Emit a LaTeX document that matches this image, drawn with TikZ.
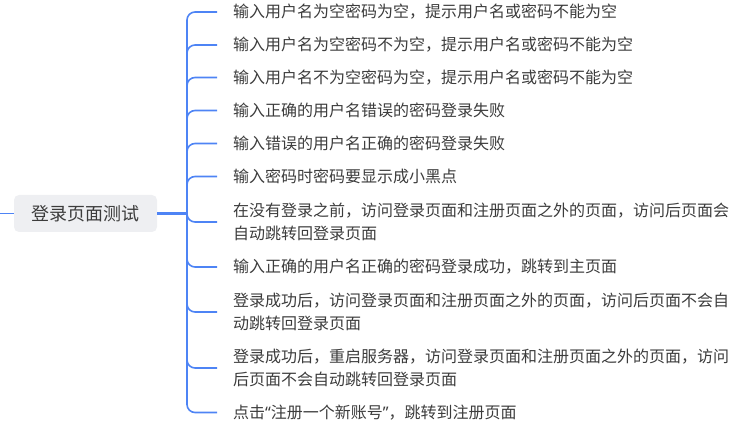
\documentclass[tikz,border=0pt]{standalone}
\usepackage{fontspec}
\setmainfont{Noto Sans CJK SC}
\newfontfamily\quotefont{Noto Sans}
\usetikzlibrary{positioning}
\definecolor{branchblue}{RGB}{78,132,245}
\definecolor{rootgrey}{RGB}{238,239,242}
\definecolor{textgrey}{RGB}{60,60,60}
\newcommand{\openquote}{{\quotefont “}}
\newcommand{\closequote}{{\quotefont ”}}

\begin{document}
\begin{tikzpicture}[x=1pt,y=-1pt,
 root node/.style={fill=rootgrey, rounded corners=5pt, minimum width=143pt,
   minimum height=37pt, inner sep=0pt, text=textgrey, font=\fontsize{18}{22}\selectfont},
 leaf node/.style={anchor=west, inner xsep=16pt, inner ysep=0pt, align=left,
   text=textgrey, font=\fontsize{16}{23}\selectfont},
 branch line/.style={draw=branchblue, line width=1.6pt, rounded corners=8pt}]
  \useasboundingbox (0,0) rectangle (736,430);
  \node[root node] (0) at (85.5,213.5) {登录页面测试};
  \coordinate (stub) at (0,213.5);
  \coordinate (hub) at (187,213.5);

  \node[leaf node] (1) at (217,12) {输入用户名为空密码为空，提示用户名或密码不能为空};
  \node[leaf node] (2) at (217,45) {输入用户名为空密码不为空，提示用户名或密码不能为空};
  \node[leaf node] (3) at (217,77.5) {输入用户名不为空密码为空，提示用户名或密码不能为空};
  \node[leaf node] (4) at (217,110.5) {输入正确的用户名错误的密码登录失败};
  \node[leaf node] (5) at (217,143.5) {输入错误的用户名正确的密码登录失败};
  \node[leaf node] (6) at (217,176.5) {输入密码时密码要显示成小黑点};
  \node[leaf node] (7) at (217,222) {在没有登录之前，访问登录页面和注册页面之外的页面，访问后页面会\\自动跳转回登录页面};
  \node[leaf node] (8) at (217,267) {输入正确的用户名正确的密码登录成功，跳转到主页面};
  \node[leaf node] (9) at (217,312) {登录成功后，访问登录页面和注册页面之外的页面，访问后页面不会自\\动跳转回登录页面};
  \node[leaf node] (10) at (217,368) {登录成功后，重启服务器，访问登录页面和注册页面之外的页面，访问\\后页面不会自动跳转回登录页面};
  \node[leaf node] (11) at (217,412.5) {点击\openquote 注册一个新账号\closequote，跳转到注册页面};

  \draw[branchblue, line width=1.2pt] (stub) -- (0.west);
  \draw[branchblue, line width=3pt] (0.east) -- (hub);
  \foreach \t in {1,...,11} {
   \path[branch line] (hub) |- (\t.west);}
\end{tikzpicture}
\end{document}
